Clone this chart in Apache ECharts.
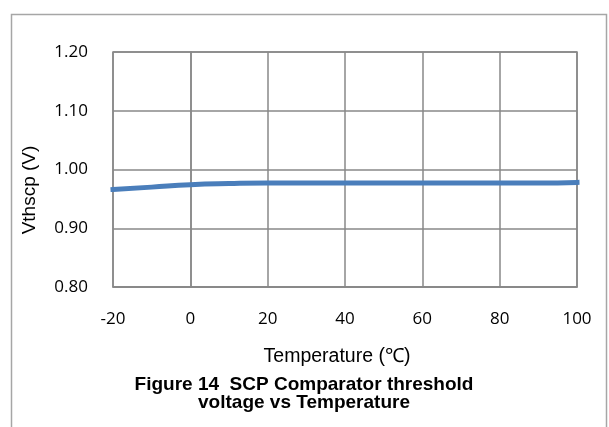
<!DOCTYPE html>
<html><head><meta charset="utf-8">
<script src="https://cdn.jsdelivr.net/npm/echarts@6/dist/echarts.min.js"></script>
<style>html,body{margin:0;padding:0;background:#fff}#c{width:609px;height:427px}</style>
</head><body><div id="c"></div>
<script>
const temps = [-20, -10, 0, 10, 20, 30, 40, 50, 60, 70, 80, 90, 100];
const vthscp = [0.966, 0.970, 0.974, 0.976, 0.977, 0.977, 0.977, 0.977, 0.977, 0.977, 0.977, 0.977, 0.978];
const yTicks = [0.80, 0.90, 1.00, 1.10, 1.20];
const xTicks = [-20, 0, 20, 40, 60, 80, 100];
const titleLines = ['Figure 14  SCP Comparator threshold', 'voltage vs Temperature'];

const chart = echarts.init(document.getElementById('c'));
const font = '"Open Sans", Lato, sans-serif';
const titleFont = 'bold 19px "Liberation Sans", Arial, sans-serif';
chart.setOption({
  animation: false,
  graphic: [
    {type: 'rect', shape: {x: 11.5, y: 14.5, width: 595, height: 430}, style: {fill: 'none', stroke: '#a6a6a6', lineWidth: 1.5}, z: -1},
    {type: 'text', x: 304, y: 385, style: {text: titleLines[0], font: titleFont, fill: '#000', textAlign: 'center', textVerticalAlign: 'middle', letterSpacing: -0.3}},
    {type: 'text', x: 304, y: 403, style: {text: titleLines[1], font: titleFont, fill: '#000', textAlign: 'center', textVerticalAlign: 'middle', letterSpacing: -0.3}},
    {type: 'text', x: 337, y: 357, style: {text: 'Temperature (\u2103)', font: '19.5px "Liberation Sans", Arial, sans-serif', fill: '#000', textAlign: 'center', textVerticalAlign: 'middle'}},
    {type: 'text', x: 30, y: 190, rotation: Math.PI / 2, style: {text: 'Vthscp (V)', font: '19px "Liberation Sans", Arial, sans-serif', fill: '#000', textAlign: 'center', textVerticalAlign: 'middle'}}
  ],
  grid: {left: 113, top: 52, right: 32, bottom: 140, show: true, borderColor: '#888', borderWidth: 1.5},
  xAxis: {
    type: 'value', min: -20, max: 100, interval: 20,
    axisLine: {show: true, lineStyle: {color: '#888', width: 1.5}},
    axisTick: {show: false},
    splitLine: {show: true, lineStyle: {color: '#888', width: 1.5}},
    axisLabel: {color: '#000', fontSize: 17, fontFamily: font, margin: 24,
      formatter: v => xTicks.includes(v) ? String(v) : ''}
  },
  yAxis: {
    type: 'value', min: 0.8, max: 1.2, interval: 0.1,
    axisLine: {show: true, lineStyle: {color: '#888', width: 1.5}},
    axisTick: {show: false},
    splitLine: {show: true, lineStyle: {color: '#888', width: 1.5}},
    axisLabel: {color: '#000', fontSize: 17, fontFamily: font, margin: 25,
      formatter: v => { const t = yTicks.find(y => Math.abs(y - v) < 1e-6); return t !== undefined ? t.toFixed(2) : ''; }}
  },
  series: [{
    type: 'line', smooth: true, showSymbol: false,
    data: temps.map((t, i) => [t, vthscp[i]]),
    lineStyle: {color: '#4a7ebb', width: 5, cap: 'square'},
    clip: false
  }]
});
</script></body></html>
